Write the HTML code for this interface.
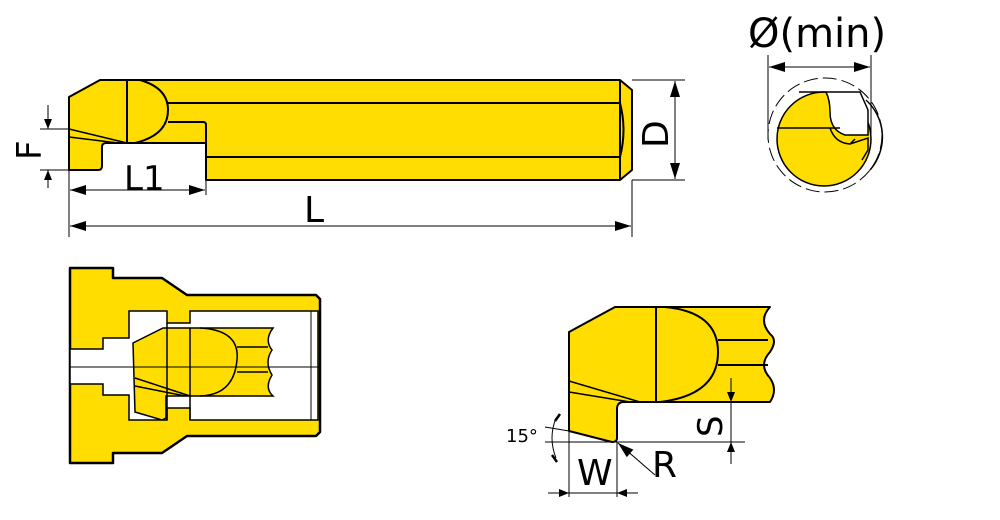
<!DOCTYPE html>
<html><head><meta charset="utf-8"><style>body{margin:0;background:#fff}svg{display:block}text{font-family:"DejaVu Sans","Liberation Sans",sans-serif;fill:#000}</style></head><body>
<svg width="1000" height="520" viewBox="0 0 1000 520" xmlns="http://www.w3.org/2000/svg">
<defs>
<marker id="a" viewBox="0 0 10 8" refX="10" refY="4" markerWidth="12" markerHeight="8" orient="auto-start-reverse" markerUnits="userSpaceOnUse"><path d="M0,0L10,4L0,8z" fill="#000"/></marker>
<marker id="b" viewBox="0 0 16 10" refX="16" refY="5" markerWidth="16" markerHeight="10" orient="auto-start-reverse" markerUnits="userSpaceOnUse"><path d="M0,0L16,5L0,10z" fill="#000"/></marker>
</defs>
<g stroke="#000" stroke-width="2" fill="#FFDD00" stroke-linejoin="round">
<path d="M100,80 L620,80 L632,90 L632,170 L620,180 L206,180 L206,143 L106,143 Q102,143 102,147 L102,166 Q102,170 98,170 L69,170 L69,97 Z"/>
<path d="M206,143 L206,125 Q206,122 203,122 L168,122" fill="none"/>
<path d="M127,80 L127,143 M140,80 Q168,88 168,110 Q168,135 135,143 M168,103 L620,103 M206,157 L620,157 M620,80 L620,180 M620,103 Q627,130 620,157" fill="none"/>
<path d="M69,129 L127,143 M69,137 L118,143" fill="none" stroke-width="1.5"/>
</g>
<g stroke="#000" stroke-width="1" fill="none">
<path d="M40,129 L69,129 M40,170 L69,170 M69,170 L69,237 M206,180 L206,195 M632,180 L632,237 M632,80 L685,80 M632,180 L685,180"/>
<path d="M48,105 L48,129" marker-end="url(#a)"/><path d="M48,188 L48,170" marker-end="url(#a)"/>
<path d="M70,190 L205,190" marker-start="url(#b)" marker-end="url(#b)"/>
<path d="M70,226 L631,226" marker-start="url(#b)" marker-end="url(#b)"/>
<path d="M675,81 L675,179" marker-start="url(#b)" marker-end="url(#b)"/>
</g>
<text x="124" y="190" font-size="34">L1</text>
<text x="304" y="222" font-size="36">L</text>
<text transform="translate(41,160) rotate(-90)" font-size="34">F</text>
<text transform="translate(668,148) rotate(-90)" font-size="36">D</text>
<text x="748" y="47" font-size="40">Ø(min)</text>
<g stroke="#000" stroke-width="1" fill="none">
<path d="M768,55 L768,140 M871,55 L871,140"/>
<path d="M769,67 L870,67" marker-start="url(#b)" marker-end="url(#b)"/>
<circle cx="825" cy="135" r="57" stroke-dasharray="14,5"/>
<path d="M866,100 A50,50 0 0 1 870,170" stroke-width="1.5"/>
</g>
<g stroke="#000" stroke-width="1.5" fill="#FFDD00">
<circle cx="824" cy="139" r="47"/>
<path d="M799,92 L860,92 L868,110 L868,135 L845,135 Q830,130 830,112 Q830,100 826,92Z" fill="#fff"/>
<path d="M777,128 L840,128 M830,128 Q835,143 850,144 L868,138 L868,150 L862,160 M850,144 L855,139" fill="none"/>
</g>
<g stroke="#000" stroke-width="2.5" fill="#FFDD00" stroke-linejoin="round">
<path d="M70,268 L113,268 L113,278 L162,278 L187,295 L316,295 L320,299 L320,432 L316,436 L187,436 L162,453 L113,453 L113,463 L70,463 Z"/>
</g>
<g stroke="#000" stroke-width="1.5" fill="#fff">
<path d="M70,349 L103,349 L103,338 L129,338 L129,311 L167,311 L167,323 L190,323 L190,311 L318,311 L318,420 L190,420 L190,408 L167,408 L167,420 L129,420 L129,395 L103,395 L103,384 L70,384 Z"/>
</g>
<g stroke="#000" stroke-width="1.5" fill="#FFDD00">
<path d="M133,343 L163,328 L273,328 Q264,340 272,350 Q264,362 272,375 Q264,388 273,396 L175,396 L166,396 L166,418 L162,420 L135,412 Z"/>
<path d="M190,328 L190,420 M167,323 L167,420 M200,328 Q240,330 237,360 Q234,395 200,396 M237,347 L268,347 M237,372 L268,372 M135,378 L190,396 M135,386 L185,396" fill="none"/>
</g>
<path d="M70,367 L320,367 M311,311 L311,420" stroke="#000" stroke-width="1" fill="none"/>
<g stroke="#000" stroke-width="2" fill="#FFDD00" stroke-linejoin="round">
<path d="M569,332 L615,307 L770,307 Q758,320 770,334 Q778,340 770,352 Q758,365 770,378 Q778,390 770,402 L624,402 Q617,402 617,409 L617,438 Q617,442 612,442 L569,431 Z"/>
<path d="M656,307 L656,402 M665,307 Q718,312 718,352 Q718,395 660,402 M718,340 L768,340 M718,365 L768,365" fill="none"/>
<path d="M569,381 L640,402 M569,392 L630,402" fill="none" stroke-width="1.5"/>
</g>
<g stroke="#000" stroke-width="1" fill="none">
<path d="M545,442 L745,442 M569,431 L569,497 M617,442 L617,497 M545,427 L569,431"/>
<path d="M731,378 L731,402" marker-end="url(#a)"/><path d="M731,464 L731,442" marker-end="url(#a)"/>
<path d="M731,402 L731,442"/>
<path d="M548,493 L569,493" marker-end="url(#a)"/><path d="M638,493 L617,493" marker-end="url(#a)"/>
<path d="M569,493 L617,493"/>
<path d="M655,475 L618,443" marker-end="url(#b)"/>
<path d="M556,418 Q548,438 556,458"/>
<path d="M560,414 L555,421 M552,455 L557,462" stroke-width="2.5"/>
</g>
<text x="506" y="442" font-size="18" font-family="Liberation Sans">15°</text>
<text x="577" y="485" font-size="36">W</text>
<text x="652" y="477" font-size="36">R</text>
<text transform="translate(722,437) rotate(-90)" font-size="34">S</text>
</svg>
</body></html>
